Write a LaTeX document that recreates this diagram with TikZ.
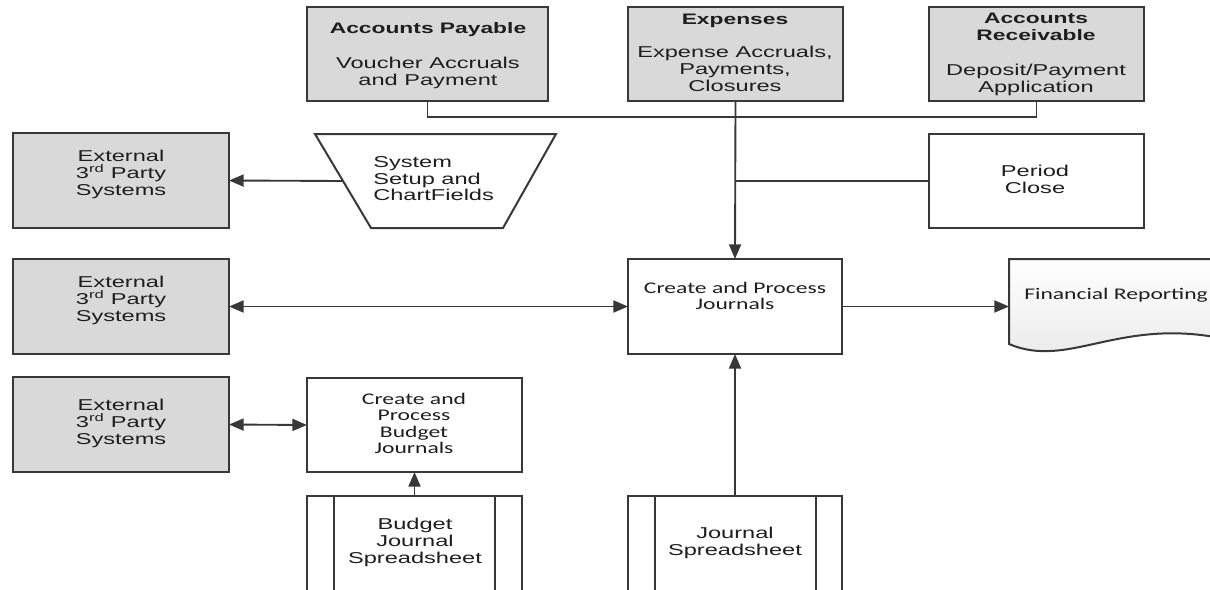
\documentclass[tikz,border=0pt]{standalone}
\usepackage{fontspec}
\setmainfont{Liberation Sans}[FakeStretch=1.5]
\newfontfamily\calfont{Carlito}[FakeStretch=1.45]
\usetikzlibrary{fit,arrows.meta}
\definecolor{boxgray}{HTML}{D9D9D9}
\definecolor{linec}{HTML}{383838}
\definecolor{textc}{HTML}{1E1E1E}
\tikzset{
  x=0.75pt, y=-0.75pt,
  gbox/.style={draw=linec, fill=boxgray, line width=1.5pt, inner sep=0pt, outer sep=0pt},
  wbox/.style={draw=linec, fill=white, line width=1.5pt, inner sep=0pt, outer sep=0pt},
  atxt/.style={inner sep=0pt, align=center, text=textc, font=\fontsize{11.8}{12.6}\selectfont, anchor=north},
  ctxt/.style={inner sep=0pt, align=center, text=textc, font=\calfont\fontsize{12.2}{12.2}\selectfont, anchor=north},
  conn/.style={draw=linec, line width=1.4pt},
  arr/.style={conn, -{Triangle[length=11pt,width=9pt]}},
  darr/.style={conn, {Triangle[length=11pt,width=9pt]}-{Triangle[length=11pt,width=9pt]}},
}
\begin{document}
\begin{tikzpicture}
\fill[white] (0,0) rectangle (1210,589);
\useasboundingbox (0,0) rectangle (1210,589);

% top boxes
\node[gbox, fit={(307,7)(548,101)}] (ap) {};
\node[gbox, fit={(628,7)(843,101)}] (ex) {};
\node[gbox, fit={(929,7)(1144,101)}] (ar) {};
\node[atxt] (aptxt) at (428,22) {\bfseries\fontsize{11.4}{12.4}\selectfont Accounts Payable\\[13.8pt]Voucher Accruals\\and Payment};
\node[atxt] (extxt) at (735,14) {\bfseries\fontsize{11.4}{12.4}\selectfont Expenses\\[12.3pt]Expense Accruals,\\Payments,\\Closures};
\node[atxt] (artxt) at (1036,13) {\bfseries\fontsize{11.4}{11}\selectfont Accounts\\\bfseries\fontsize{11.4}{11}\selectfont Receivable\\[13.8pt]Deposit/Payment\\Application};

% period close
\node[wbox, fit={(929,134)(1144,228)}] (pc) {};
\node[atxt] (pctxt) at (1035,165) {Period\\Close};

% system setup trapezoid
\draw[conn, line width=1.5pt, fill=white] (315,134) -- (556,134) -- (503,228) -- (371,228) -- cycle;
\coordinate (sysL) at (343,181);
\node[atxt, anchor=north west, align=left] (sys) at (373,156) {System\\Setup and\\ChartFields};

% external systems
\node[gbox, fit={(13,133)(229,228)}] (ext1) {};
\node[gbox, fit={(13,259)(229,354)}] (ext2) {};
\node[gbox, fit={(13,377)(229,472)}] (ext3) {};
\node[atxt] (e1txt) at (121,150) {External\\3\textsuperscript{rd} Party\\Systems};
\node[atxt] (e2txt) at (121,276) {External\\3\textsuperscript{rd} Party\\Systems};
\node[atxt] (e3txt) at (121,399) {External\\3\textsuperscript{rd} Party\\Systems};

% create and process journals
\node[wbox, fit={(628,259)(842,354)}] (cj) {};
\node[ctxt] (cjtxt) at (735,282) {Create and Process\\Journals};

% financial reporting document
\shade[top color=white, bottom color=gray!18, draw=linec, line width=1.5pt]
  (1009,259) -- (1230,259) -- (1230,340) .. controls (1120,315) and (1070,370) .. (1009,344) -- cycle;
\coordinate (frL) at (1009,306.5);
\node[ctxt, anchor=north west] (frtxt) at (1024,288) {Financial Reporting};

% budget journals
\node[wbox, fit={(307,378)(522,472)}] (bj) {};
\node[ctxt] (bjtxt) at (414,393) {Create and\\Process\\Budget\\Journals};

% spreadsheets
\node[wbox, fit={(307,496)(522,620)}] (bjs) {};
\draw[conn, line width=1.5pt] ([xshift=20.25pt]bjs.north west) -- ([xshift=20.25pt]bjs.south west);
\draw[conn, line width=1.5pt] ([xshift=-20.25pt]bjs.north east) -- ([xshift=-20.25pt]bjs.south east);
\node[atxt] (bjstxt) at (415,518) {Budget\\Journal\\Spreadsheet};

\node[wbox, fit={(628,496)(842,620)}] (js) {};
\draw[conn, line width=1.5pt] ([xshift=20.25pt]js.north west) -- ([xshift=20.25pt]js.south west);
\draw[conn, line width=1.5pt] ([xshift=-19.5pt]js.north east) -- ([xshift=-19.5pt]js.south east);
\node[atxt] (jstxt) at (735,527) {Journal\\Spreadsheet};

% connectors
\draw[conn] (ap.south) |- (ar.south |- 0,117) -- (ar.south);
\draw[arr] (ex.south) -- (cj.north);
\draw[conn] (pc.west) -- (pc.west -| cj.north);
\draw[arr] (sysL) -- (ext1.east);
\draw[darr] (ext2.east) -- (cj.west);
\draw[arr] (cj.east) -- (frL);
\draw[darr] (ext3.east) -- (bj.west);
\draw[arr] (bjs.north) -- (bj.south);
\draw[arr] (js.north) -- (cj.south);
\end{tikzpicture}
\end{document}
